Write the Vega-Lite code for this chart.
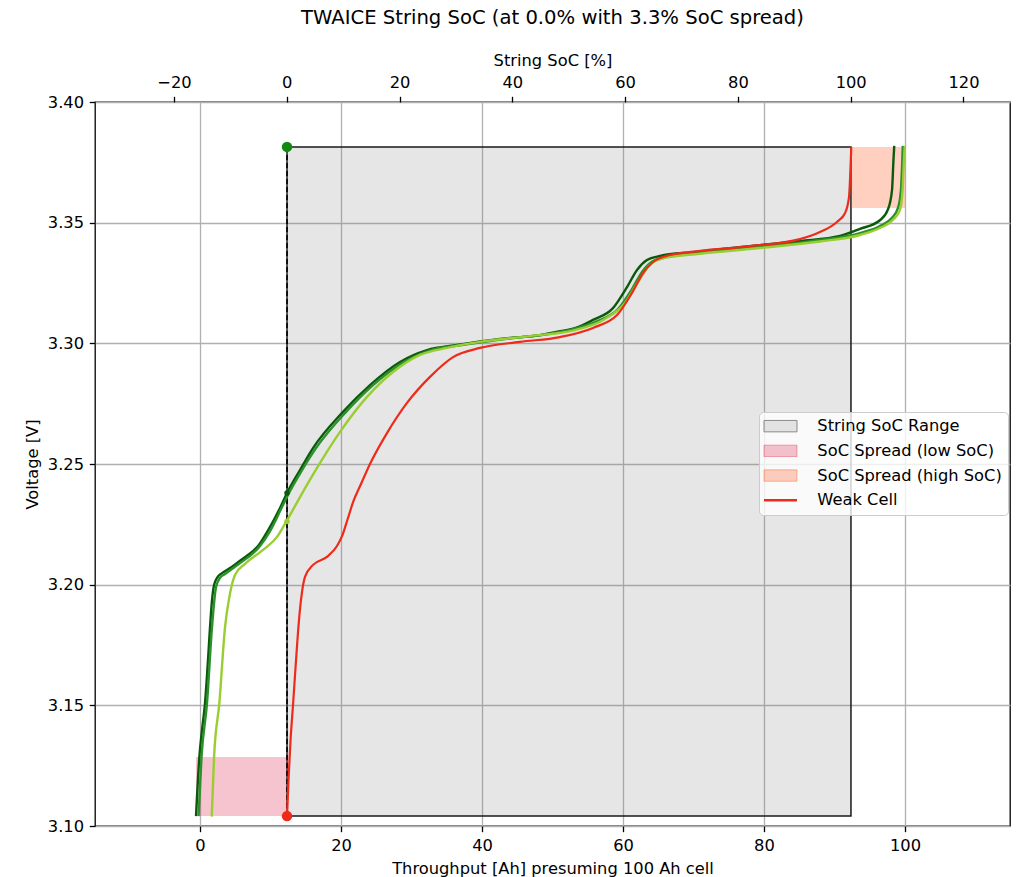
{
  "$schema": "https://vega.github.io/schema/vega-lite/v6.json",
  "width": 915,
  "height": 724,
  "autosize": {"type": "none"},
  "padding": {"left": 95, "top": 102, "right": 15, "bottom": 51},
  "title": {"text": "TWAICE String SoC (at 0.0% with 3.3% SoC spread)", "fontSize": 19.6, "fontWeight": "normal", "font": "DejaVu Sans", "color": "black", "offset": 24, "anchor": "middle", "frame": "group"},
  "datasets": {
    "ranges": [
      {"series": "String SoC Range", "x1": 12.34, "x2": 92.34, "y1": 3.1041, "y2": 3.3814},
      {"series": "SoC Spread (low SoC)", "x1": -0.57, "x2": 12.34, "y1": 3.1041, "y2": 3.1286},
      {"series": "SoC Spread (high SoC)", "x1": 92.34, "x2": 100.0, "y1": 3.3561, "y2": 3.3814}
    ],
    "divider": [{"ah": 12.34, "v1": 3.1041, "v2": 3.3814}],
    "cells": [
      {"cell": "Cell A", "ah": -0.57, "v": 3.1041},
      {"cell": "Cell A", "ah": -0.10, "v": 3.1286},
      {"cell": "Cell A", "ah": 0.28, "v": 3.1398},
      {"cell": "Cell A", "ah": 0.71, "v": 3.1510},
      {"cell": "Cell A", "ah": 1.13, "v": 3.1688},
      {"cell": "Cell A", "ah": 1.42, "v": 3.1825},
      {"cell": "Cell A", "ah": 1.70, "v": 3.1936},
      {"cell": "Cell A", "ah": 1.99, "v": 3.1999},
      {"cell": "Cell A", "ah": 2.41, "v": 3.2028},
      {"cell": "Cell A", "ah": 3.12, "v": 3.2048},
      {"cell": "Cell A", "ah": 4.26, "v": 3.2069},
      {"cell": "Cell A", "ah": 5.25, "v": 3.2090},
      {"cell": "Cell A", "ah": 6.52, "v": 3.2117},
      {"cell": "Cell A", "ah": 8.23, "v": 3.2160},
      {"cell": "Cell A", "ah": 9.65, "v": 3.2225},
      {"cell": "Cell A", "ah": 11.35, "v": 3.2318},
      {"cell": "Cell A", "ah": 12.34, "v": 3.2380},
      {"cell": "Cell A", "ah": 14.18, "v": 3.2475},
      {"cell": "Cell A", "ah": 16.03, "v": 3.2566},
      {"cell": "Cell A", "ah": 20.28, "v": 3.2716},
      {"cell": "Cell A", "ah": 24.11, "v": 3.2827},
      {"cell": "Cell A", "ah": 28.37, "v": 3.2923},
      {"cell": "Cell A", "ah": 32.2, "v": 3.2972},
      {"cell": "Cell A", "ah": 36.45, "v": 3.2993},
      {"cell": "Cell A", "ah": 42.55, "v": 3.3018},
      {"cell": "Cell A", "ah": 48.23, "v": 3.3034},
      {"cell": "Cell A", "ah": 51.06, "v": 3.3050},
      {"cell": "Cell A", "ah": 53.5, "v": 3.3066},
      {"cell": "Cell A", "ah": 55.74, "v": 3.3097},
      {"cell": "Cell A", "ah": 58.58, "v": 3.3146},
      {"cell": "Cell A", "ah": 60.57, "v": 3.3233},
      {"cell": "Cell A", "ah": 61.99, "v": 3.3304},
      {"cell": "Cell A", "ah": 63.4, "v": 3.3345},
      {"cell": "Cell A", "ah": 65.25, "v": 3.3362},
      {"cell": "Cell A", "ah": 69.93, "v": 3.3378},
      {"cell": "Cell A", "ah": 78.0, "v": 3.3403},
      {"cell": "Cell A", "ah": 85.1, "v": 3.3424},
      {"cell": "Cell A", "ah": 90.78, "v": 3.3445},
      {"cell": "Cell A", "ah": 93.62, "v": 3.3474},
      {"cell": "Cell A", "ah": 96.45, "v": 3.3510},
      {"cell": "Cell A", "ah": 97.59, "v": 3.3555},
      {"cell": "Cell A", "ah": 98.16, "v": 3.3634},
      {"cell": "Cell A", "ah": 98.37, "v": 3.3760},
      {"cell": "Cell A", "ah": 98.48, "v": 3.3818},
      {"cell": "Cell B", "ah": -0.21, "v": 3.1041},
      {"cell": "Cell B", "ah": 0.21, "v": 3.1286},
      {"cell": "Cell B", "ah": 0.99, "v": 3.1510},
      {"cell": "Cell B", "ah": 1.70, "v": 3.1825},
      {"cell": "Cell B", "ah": 2.27, "v": 3.1990},
      {"cell": "Cell B", "ah": 2.84, "v": 3.2028},
      {"cell": "Cell B", "ah": 3.55, "v": 3.2044},
      {"cell": "Cell B", "ah": 5.53, "v": 3.2086},
      {"cell": "Cell B", "ah": 8.51, "v": 3.2160},
      {"cell": "Cell B", "ah": 9.93, "v": 3.2222},
      {"cell": "Cell B", "ah": 11.63, "v": 3.2322},
      {"cell": "Cell B", "ah": 12.62, "v": 3.2380},
      {"cell": "Cell B", "ah": 14.47, "v": 3.2475},
      {"cell": "Cell B", "ah": 16.45, "v": 3.2566},
      {"cell": "Cell B", "ah": 20.71, "v": 3.2716},
      {"cell": "Cell B", "ah": 24.54, "v": 3.2827},
      {"cell": "Cell B", "ah": 28.94, "v": 3.2923},
      {"cell": "Cell B", "ah": 32.77, "v": 3.2972},
      {"cell": "Cell B", "ah": 37.16, "v": 3.2993},
      {"cell": "Cell B", "ah": 43.26, "v": 3.3018},
      {"cell": "Cell B", "ah": 51.77, "v": 3.3051},
      {"cell": "Cell B", "ah": 56.45, "v": 3.3093},
      {"cell": "Cell B", "ah": 59.29, "v": 3.3142},
      {"cell": "Cell B", "ah": 61.28, "v": 3.3225},
      {"cell": "Cell B", "ah": 62.70, "v": 3.3296},
      {"cell": "Cell B", "ah": 64.26, "v": 3.3341},
      {"cell": "Cell B", "ah": 66.38, "v": 3.3358},
      {"cell": "Cell B", "ah": 70.92, "v": 3.3375},
      {"cell": "Cell B", "ah": 79.43, "v": 3.3399},
      {"cell": "Cell B", "ah": 87.94, "v": 3.3428},
      {"cell": "Cell B", "ah": 93.62, "v": 3.3457},
      {"cell": "Cell B", "ah": 96.45, "v": 3.3486},
      {"cell": "Cell B", "ah": 98.16, "v": 3.3520},
      {"cell": "Cell B", "ah": 99.01, "v": 3.3561},
      {"cell": "Cell B", "ah": 99.43, "v": 3.3636},
      {"cell": "Cell B", "ah": 99.62, "v": 3.3760},
      {"cell": "Cell B", "ah": 99.69, "v": 3.3818},
      {"cell": "Cell C", "ah": 1.66, "v": 3.1039},
      {"cell": "Cell C", "ah": 1.99, "v": 3.1286},
      {"cell": "Cell C", "ah": 2.74, "v": 3.1510},
      {"cell": "Cell C", "ah": 3.55, "v": 3.1825},
      {"cell": "Cell C", "ah": 4.16, "v": 3.1949},
      {"cell": "Cell C", "ah": 4.96, "v": 3.2040},
      {"cell": "Cell C", "ah": 6.38, "v": 3.2086},
      {"cell": "Cell C", "ah": 8.94, "v": 3.2144},
      {"cell": "Cell C", "ah": 10.92, "v": 3.2198},
      {"cell": "Cell C", "ah": 12.2, "v": 3.2260},
      {"cell": "Cell C", "ah": 14.18, "v": 3.2363},
      {"cell": "Cell C", "ah": 16.17, "v": 3.2463},
      {"cell": "Cell C", "ah": 19.86, "v": 3.2633},
      {"cell": "Cell C", "ah": 23.69, "v": 3.2778},
      {"cell": "Cell C", "ah": 27.38, "v": 3.2881},
      {"cell": "Cell C", "ah": 31.21, "v": 3.2952},
      {"cell": "Cell C", "ah": 35.04, "v": 3.2981},
      {"cell": "Cell C", "ah": 39.72, "v": 3.3006},
      {"cell": "Cell C", "ah": 46.81, "v": 3.3030},
      {"cell": "Cell C", "ah": 53.19, "v": 3.3055},
      {"cell": "Cell C", "ah": 57.45, "v": 3.3101},
      {"cell": "Cell C", "ah": 60.28, "v": 3.3167},
      {"cell": "Cell C", "ah": 62.13, "v": 3.3254},
      {"cell": "Cell C", "ah": 63.83, "v": 3.3325},
      {"cell": "Cell C", "ah": 65.96, "v": 3.3354},
      {"cell": "Cell C", "ah": 70.92, "v": 3.3371},
      {"cell": "Cell C", "ah": 79.43, "v": 3.3395},
      {"cell": "Cell C", "ah": 87.94, "v": 3.3422},
      {"cell": "Cell C", "ah": 93.62, "v": 3.3449},
      {"cell": "Cell C", "ah": 96.45, "v": 3.3478},
      {"cell": "Cell C", "ah": 98.3, "v": 3.3512},
      {"cell": "Cell C", "ah": 99.29, "v": 3.3553},
      {"cell": "Cell C", "ah": 99.67, "v": 3.3636},
      {"cell": "Cell C", "ah": 99.86, "v": 3.3760},
      {"cell": "Cell C", "ah": 100.0, "v": 3.3818}
    ],
    "weak": [
      {"series": "Weak Cell", "ah": 12.34, "v": 3.1039},
      {"series": "Weak Cell", "ah": 12.55, "v": 3.1191},
      {"series": "Weak Cell", "ah": 12.84, "v": 3.1356},
      {"series": "Weak Cell", "ah": 13.19, "v": 3.1501},
      {"series": "Weak Cell", "ah": 13.62, "v": 3.1688},
      {"series": "Weak Cell", "ah": 14.04, "v": 3.1854},
      {"series": "Weak Cell", "ah": 14.47, "v": 3.1970},
      {"series": "Weak Cell", "ah": 14.89, "v": 3.2032},
      {"series": "Weak Cell", "ah": 16.03, "v": 3.2082},
      {"series": "Weak Cell", "ah": 18.01, "v": 3.2115},
      {"series": "Weak Cell", "ah": 19.43, "v": 3.2160},
      {"series": "Weak Cell", "ah": 20.2, "v": 3.2205},
      {"series": "Weak Cell", "ah": 20.9, "v": 3.2268},
      {"series": "Weak Cell", "ah": 21.75, "v": 3.2345},
      {"series": "Weak Cell", "ah": 22.8, "v": 3.2415},
      {"series": "Weak Cell", "ah": 24.11, "v": 3.2500},
      {"series": "Weak Cell", "ah": 26.52, "v": 3.2628},
      {"series": "Weak Cell", "ah": 29.36, "v": 3.2753},
      {"series": "Weak Cell", "ah": 32.62, "v": 3.2861},
      {"series": "Weak Cell", "ah": 35.89, "v": 3.2943},
      {"series": "Weak Cell", "ah": 39.72, "v": 3.2981},
      {"series": "Weak Cell", "ah": 45.39, "v": 3.3006},
      {"series": "Weak Cell", "ah": 51.06, "v": 3.3026},
      {"series": "Weak Cell", "ah": 55.74, "v": 3.3064},
      {"series": "Weak Cell", "ah": 59.15, "v": 3.3117},
      {"series": "Weak Cell", "ah": 61.28, "v": 3.3209},
      {"series": "Weak Cell", "ah": 62.84, "v": 3.3291},
      {"series": "Weak Cell", "ah": 64.26, "v": 3.3337},
      {"series": "Weak Cell", "ah": 66.67, "v": 3.3366},
      {"series": "Weak Cell", "ah": 70.92, "v": 3.3383},
      {"series": "Weak Cell", "ah": 78.01, "v": 3.3403},
      {"series": "Weak Cell", "ah": 85.11, "v": 3.3432},
      {"series": "Weak Cell", "ah": 87.94, "v": 3.3461},
      {"series": "Weak Cell", "ah": 90.35, "v": 3.3503},
      {"series": "Weak Cell", "ah": 91.49, "v": 3.3539},
      {"series": "Weak Cell", "ah": 92.06, "v": 3.3606},
      {"series": "Weak Cell", "ah": 92.3, "v": 3.3747},
      {"series": "Weak Cell", "ah": 92.38, "v": 3.3814}
    ],
    "crossings": [
      {"cell": "Cell A", "ah": 12.34, "v": 3.2380},
      {"cell": "Cell C", "ah": 12.34, "v": 3.2262}
    ],
    "ends": [
      {"cell": "Cell B", "ah": 12.34, "v": 3.3814},
      {"cell": "Weak Cell", "ah": 12.34, "v": 3.1041}
    ],
    "socAxis": [
      {"soc": 0, "v": 3.3814},
      {"soc": 100, "v": 3.3814}
    ]
  },
  "layer": [
    {
      "layer": [
        {
          "data": {"name": "ranges"},
          "transform": [{"filter": "datum.series === 'String SoC Range'"}],
          "mark": {"type": "rect", "fillOpacity": 0.2, "stroke": "#1a1a1a", "strokeWidth": 1.5},
          "encoding": {
            "x": {"field": "x1", "type": "quantitative", "scale": {"domain": [-14.9, 114.9], "nice": false, "zero": false},
                  "axis": {"values": [0, 20, 40, 60, 80, 100], "grid": true, "title": "Throughput [Ah] presuming 100 Ah cell"}},
            "x2": {"field": "x2"},
            "y": {"field": "y1", "type": "quantitative", "scale": {"domain": [3.1, 3.4], "nice": false, "zero": false},
                  "axis": {"values": [3.1, 3.15, 3.2, 3.25, 3.3, 3.35, 3.4], "format": ".2f", "grid": true, "title": "Voltage [V]"}},
            "y2": {"field": "y2"},
            "color": {
              "field": "series", "type": "nominal",
              "scale": {"domain": ["String SoC Range", "SoC Spread (low SoC)", "SoC Spread (high SoC)", "Weak Cell"], "range": ["#808080", "#dc143c", "#ff4500", "#ee2a1a"]},
              "legend": {
                "orient": "none", "legendX": 664, "legendY": 310, "title": null,
                "padding": 6, "fillColor": "rgba(255,255,255,0.8)", "strokeColor": "#cccccc", "cornerRadius": 4,
                "labelFontSize": 16.3, "labelFont": "DejaVu Sans", "labelColor": "black", "labelLimit": 400,
                "symbolType": "M-2.75,-0.95H2.75V0.95H-2.75Z",
                "symbolSize": 144, "symbolStrokeWidth": 1, "rowPadding": 7.7, "labelOffset": 28.7, "symbolOffset": 7.35
              }
            }
          }
        },
        {
          "data": {"name": "ranges"},
          "transform": [{"filter": "datum.series !== 'String SoC Range'"}],
          "mark": {"type": "rect", "fillOpacity": 0.25},
          "encoding": {
            "x": {"field": "x1", "type": "quantitative", "scale": {"domain": [-14.9, 114.9], "nice": false, "zero": false}},
            "x2": {"field": "x2"},
            "y": {"field": "y1", "type": "quantitative", "scale": {"domain": [3.1, 3.4], "nice": false, "zero": false}},
            "y2": {"field": "y2"},
            "color": {"field": "series", "type": "nominal"}
          }
        },
        {
          "data": {"name": "divider"},
          "mark": {"type": "rule", "color": "#000000", "strokeWidth": 1.6, "strokeDash": [5, 3]},
          "encoding": {
            "x": {"field": "ah", "type": "quantitative", "scale": {"domain": [-14.9, 114.9], "nice": false, "zero": false}},
            "y": {"field": "v1", "type": "quantitative", "scale": {"domain": [3.1, 3.4], "nice": false, "zero": false}},
            "y2": {"field": "v2"}
          }
        },
        {
          "data": {"name": "cells"},
          "mark": {"type": "line", "strokeWidth": 2.4, "interpolate": "monotone"},
          "encoding": {
            "x": {"field": "ah", "type": "quantitative", "scale": {"domain": [-14.9, 114.9], "nice": false, "zero": false}},
            "y": {"field": "v", "type": "quantitative", "scale": {"domain": [3.1, 3.4], "nice": false, "zero": false}},
            "stroke": {"field": "cell", "type": "nominal", "scale": {"domain": ["Cell A", "Cell B", "Cell C"], "range": ["#0b5a0b", "#2a902a", "#9acd32"]}, "legend": null}
          }
        },
        {
          "data": {"name": "weak"},
          "mark": {"type": "line", "strokeWidth": 2.2, "interpolate": "monotone"},
          "encoding": {
            "x": {"field": "ah", "type": "quantitative", "scale": {"domain": [-14.9, 114.9], "nice": false, "zero": false}},
            "y": {"field": "v", "type": "quantitative", "scale": {"domain": [3.1, 3.4], "nice": false, "zero": false}},
            "color": {"field": "series", "type": "nominal",
              "legend": {
                "encode": {
                  "symbols": {
                    "update": {
                      "shape": {"signal": "datum.value === 'Weak Cell' ? 'M-2.75,-0.2H2.75V0.2H-2.75Z' : 'M-2.75,-0.95H2.75V0.95H-2.75Z'"},
                      "fillOpacity": {"signal": "datum.value === 'Weak Cell' ? 1 : datum.value === 'String SoC Range' ? 0.2 : 0.25"},
                      "strokeOpacity": {"signal": "datum.value === 'Weak Cell' ? 0 : datum.value === 'String SoC Range' ? 0.9 : 0.35"}
                    }
                  }
                }
              }
            }
          }
        },
        {
          "data": {"name": "crossings"},
          "mark": {"type": "point", "filled": true, "size": 30, "opacity": 1},
          "encoding": {
            "x": {"field": "ah", "type": "quantitative", "scale": {"domain": [-14.9, 114.9], "nice": false, "zero": false}},
            "y": {"field": "v", "type": "quantitative", "scale": {"domain": [3.1, 3.4], "nice": false, "zero": false}},
            "fill": {"field": "cell", "type": "nominal", "scale": {"domain": ["Cell A", "Cell B", "Cell C", "Weak Cell"], "range": ["#0b5a0b", "#118a11", "#9acd32", "#ee2a1a"]}, "legend": null}
          }
        },
        {
          "data": {"name": "ends"},
          "mark": {"type": "point", "filled": true, "size": 110, "opacity": 1},
          "encoding": {
            "x": {"field": "ah", "type": "quantitative", "scale": {"domain": [-14.9, 114.9], "nice": false, "zero": false}},
            "y": {"field": "v", "type": "quantitative", "scale": {"domain": [3.1, 3.4], "nice": false, "zero": false}},
            "fill": {"field": "cell", "type": "nominal"}
          }
        }
      ]
    },
    {
      "data": {"name": "socAxis"},
      "mark": {"type": "point", "opacity": 0},
      "encoding": {
        "x": {"field": "soc", "type": "quantitative", "scale": {"domain": [-34, 128.25], "nice": false, "zero": false},
              "axis": {"orient": "top", "values": [-20, 0, 20, 40, 60, 80, 100, 120], "grid": false, "title": "String SoC [%]"}},
        "y": {"field": "v", "type": "quantitative", "scale": {"domain": [3.1, 3.4], "nice": false, "zero": false}}
      }
    }
  ],
  "resolve": {"scale": {"x": "independent"}, "axis": {"x": "independent"}},
  "config": {
    "font": "DejaVu Sans",
    "background": "white",
    "view": {"stroke": "#000000", "strokeWidth": 1.3},
    "axis": {
      "labelFont": "DejaVu Sans", "labelFontSize": 16.3, "labelColor": "black",
      "titleFont": "DejaVu Sans", "titleFontSize": 16.3, "titleFontWeight": "normal", "titleColor": "black",
      "tickColor": "black", "tickSize": 5.7, "tickWidth": 1.3, "labelPadding": 5.7, "titlePadding": 6.5,
      "domain": false, "gridColor": "#b0b0b0", "gridWidth": 1.3, "gridOpacity": 1, "labelFlush": false, "labelOverlap": false
    }
  }
}
